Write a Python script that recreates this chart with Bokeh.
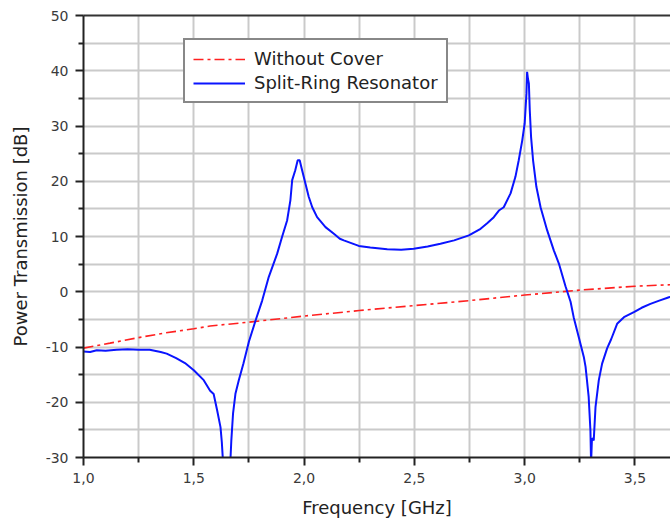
from bokeh.plotting import figure
from bokeh.models import (LinearAxis, FixedTicker, CustomJSTickFormatter, Legend,
                          LegendItem, Range1d, ColumnDataSource)
from bokeh.embed import file_html
from bokeh.resources import INLINE

# ---- data ----
freq_cover = [1.0, 1.12, 1.25, 1.363, 1.5, 1.574, 1.75, 2.0, 2.25, 2.5, 2.75, 3.0, 3.25, 3.5, 3.68]
trans_cover = [-10.2, -9.3, -8.3, -7.5, -6.7, -6.2, -5.5, -4.4, -3.4, -2.5, -1.6, -0.6, 0.3, 1.0, 1.3]

freq_srr = [1.0, 1.03, 1.06, 1.10, 1.15, 1.20, 1.25, 1.30, 1.35, 1.377, 1.42, 1.46, 1.50,
            1.545, 1.574, 1.59, 1.606, 1.621, 1.627, 1.632, 1.648, 1.666, 1.670, 1.678,
            1.689, 1.704, 1.725, 1.75, 1.78, 1.81, 1.84, 1.878, 1.90, 1.923, 1.938, 1.946,
            1.96, 1.971, 1.98, 1.991, 2.006, 2.021, 2.037, 2.059, 2.097, 2.135, 2.162, 2.18,
            2.248, 2.30, 2.377, 2.44, 2.497, 2.56, 2.618, 2.68, 2.747, 2.80, 2.83, 2.86,
            2.883, 2.905, 2.936, 2.958, 2.973, 2.989, 3.0, 3.008, 3.011, 3.015, 3.019,
            3.023, 3.029, 3.038, 3.053, 3.072, 3.102, 3.132, 3.155, 3.185, 3.208, 3.222,
            3.245, 3.268, 3.276, 3.29, 3.298, 3.301, 3.305, 3.313, 3.321, 3.336, 3.351,
            3.374, 3.392, 3.419, 3.45, 3.495, 3.53, 3.57, 3.61, 3.654, 3.68]
trans_srr = [-10.8, -10.9, -10.6, -10.7, -10.5, -10.4, -10.5, -10.5, -10.9, -11.2, -12.0,
             -12.9, -14.2, -16.0, -17.9, -18.5, -21.5, -24.5, -27.2, -30.5, -36.0, -30.5,
             -27.0, -22.0, -18.4, -16.0, -13.0, -9.0, -5.2, -1.6, 2.7, 6.9, 9.9, 12.9, 16.6,
             20.2, 22.0, 23.8, 23.8, 22.0, 19.6, 17.2, 15.3, 13.5, 11.7, 10.5, 9.6, 9.3, 8.3,
             8.0, 7.7, 7.6, 7.8, 8.2, 8.7, 9.3, 10.2, 11.4, 12.4, 13.5, 14.7, 15.3, 17.8,
             20.8, 23.8, 27.4, 30.5, 35.9, 39.8, 38.5, 37.7, 32.9, 28.0, 23.8, 19.0, 15.3,
             11.1, 7.5, 5.1, 1.0, -1.8, -4.6, -8.2, -11.8, -13.6, -19.0, -25.1, -31.0,
             -26.5, -26.9, -20.9, -16.0, -13.0, -10.2, -8.6, -5.8, -4.6, -3.7, -2.9, -2.2,
             -1.6, -1.0, -0.8]

x_major = [1.0, 1.5, 2.0, 2.5, 3.0, 3.5]
x_minor = [1.25, 1.75, 2.25, 2.75, 3.25, 3.75]
y_major = [-30, -20, -10, 0, 10, 20, 30, 40, 50]
y_minor = [-25, -15, -5, 5, 15, 25, 35, 45]

label_cover = "Without Cover"
label_srr = "Split-Ring Resonator"
x_title = "Frequency [GHz]"
y_title = "Power Transmission [dB]"

FONT = "DejaVu Sans"
GRID = "#cacaca"

p = figure(width=670, height=522, output_backend="svg", toolbar_location=None,
           x_range=Range1d(1.0, 3.661), y_range=Range1d(-30, 50),
           min_border_left=83, min_border_right=0, min_border_top=15,
           min_border_bottom=65, outline_line_color=None,
           background_fill_color="white", border_fill_color="white")

src_c = ColumnDataSource(dict(x=freq_cover, y=trans_cover))
src_s = ColumnDataSource(dict(x=freq_srr, y=trans_srr))
r_c = p.line("x", "y", source=src_c, line_color="#ff2020", line_width=1.6,
             line_dash="10 4 3 4")
r_s = p.line("x", "y", source=src_s, line_color="#0a14ff", line_width=2)

# axes
for ax in (p.xaxis[0], p.yaxis[0]):
    ax.axis_line_color = "#222222"
    ax.axis_line_width = 2
    ax.major_tick_line_color = "#222222"
    ax.major_tick_line_width = 2
    ax.minor_tick_line_color = "#222222"
    ax.minor_tick_line_width = 2
    ax.major_tick_in = 0
    ax.major_tick_out = 8
    ax.minor_tick_in = 0
    ax.minor_tick_out = 5
    ax.major_label_text_font = FONT
    ax.major_label_text_font_size = "14px"
    ax.major_label_text_color = "#3a3a3a"
    ax.major_label_standoff = 7
    ax.axis_label_text_font = FONT
    ax.axis_label_text_font_size = "18px"
    ax.axis_label_text_font_style = "normal"
    ax.axis_label_text_color = "#222222"

p.xaxis[0].ticker = FixedTicker(ticks=x_major, minor_ticks=x_minor)
p.yaxis[0].ticker = FixedTicker(ticks=y_major, minor_ticks=y_minor)
p.xaxis[0].formatter = CustomJSTickFormatter(code="return tick.toFixed(1).replace('.', ',');")
p.yaxis[0].formatter = CustomJSTickFormatter(code="return tick.toFixed(0);")
p.xaxis[0].axis_label = x_title
p.yaxis[0].axis_label = y_title
p.xaxis[0].axis_label_standoff = 11
p.yaxis[0].axis_label_standoff = 12

top_axis = LinearAxis(ticker=FixedTicker(ticks=[]), axis_line_color="#333333",
                      axis_line_width=2, major_tick_line_color=None,
                      minor_tick_line_color=None, major_label_text_font_size="0px",
                      major_label_standoff=0)
p.add_layout(top_axis, "above")

# grid
p.xgrid.ticker = FixedTicker(ticks=x_major, minor_ticks=x_minor)
p.ygrid.ticker = FixedTicker(ticks=y_major, minor_ticks=y_minor)
for g in (p.xgrid[0], p.ygrid[0]):
    g.grid_line_color = GRID
    g.grid_line_width = 2
    g.minor_grid_line_color = GRID
    g.minor_grid_line_width = 2

legend = Legend(items=[LegendItem(label=label_cover, renderers=[r_c]),
                       LegendItem(label=label_srr, renderers=[r_s])],
                location=(100, 354), orientation="vertical",
                label_text_font=FONT, label_text_font_size="18px",
                label_text_color="#222222",
                glyph_width=52, glyph_height=20, label_height=20,
                label_standoff=9, spacing=3, padding=8, margin=0,
                border_line_color="#111111", border_line_width=2,
                background_fill_color="white", background_fill_alpha=1.0)
p.add_layout(legend, "center")

open("out.html", "w").write(file_html(p, INLINE))
